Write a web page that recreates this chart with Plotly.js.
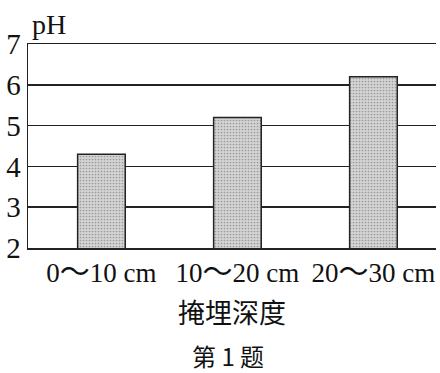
<!DOCTYPE html>
<html>
<head>
<meta charset="utf-8">
<script src="https://cdn.plot.ly/plotly-3.0.1.min.js"></script>
<style>html,body{margin:0;padding:0;background:#fff;}#chart{width:440px;height:373px;}</style>
</head>
<body>
<div id="chart"></div>
<script>
const categories = ["0～10 cm", "10～20 cm", "20～30 cm"];
const phValues = [4.3, 5.2, 6.2];
const yTicks = [2, 3, 4, 5, 6, 7];
const xTitle = "掩埋深度";
const yTitle = "pH";
const caption = "第 1 题";

const serif = "Liberation Serif, DejaVu Serif, serif";
const cjk = "Noto Sans CJK SC, sans-serif";

// render the wave dash with a CJK font so it is wide like the reference
const tickLabels = categories.map(c => c.replace("～",
  '<span style="font-family:Noto Sans CJK JP;font-size:30px">〜</span>'));

const trace = {
  type: "bar",
  x: [0, 1, 2],
  y: phValues,
  width: 0.35,
  marker: {
    color: "#cfcfcf",
    line: {color: "#222", width: 1.5},
    pattern: {shape: ".", fgcolor: "#9a9a9a", bgcolor: "#d4d4d4", size: 3, solidity: 0.25}
  },
  hoverinfo: "skip"
};

const layout = {
  width: 440,
  height: 373,
  margin: {l: 28, r: 4, t: 44, b: 125},
  paper_bgcolor: "#fff",
  plot_bgcolor: "#fff",
  showlegend: false,
  xaxis: {
    range: [-0.54, 2.46],
    tickmode: "array",
    tickvals: [0, 1, 2],
    ticktext: tickLabels,
    showgrid: false,
    zeroline: false,
    showline: true,
    mirror: true,
    linecolor: "#222",
    linewidth: 1.5,
    ticks: "",
    tickfont: {family: serif, size: 27, color: "#111"},
    title: {text: xTitle, font: {family: cjk, size: 27, color: "#111"}, standoff: 14}
  },
  yaxis: {
    range: [2, 7],
    tickmode: "array",
    tickvals: yTicks,
    ticktext: yTicks.map(String),
    showgrid: true,
    gridcolor: "#222",
    gridwidth: 1.5,
    zeroline: false,
    showline: true,
    linecolor: "#222",
    linewidth: 1.5,
    ticks: "",
    tickfont: {family: serif, size: 29, color: "#111"}
  },
  annotations: [
    {text: yTitle, xref: "paper", yref: "paper", x: 0, y: 1.0, xanchor: "left", yanchor: "bottom", yshift: 2, xshift: 2,
     showarrow: false, font: {family: serif, size: 28, color: "#111"}},
    {text: caption, xref: "paper", yref: "paper", x: 0.49, y: 0, yanchor: "middle", yshift: -107,
     showarrow: false, font: {family: cjk, size: 24, color: "#111"}}
  ]
};

Plotly.newPlot("chart", [trace], layout, {displayModeBar: false, staticPlot: true});
</script>
</body>
</html>
